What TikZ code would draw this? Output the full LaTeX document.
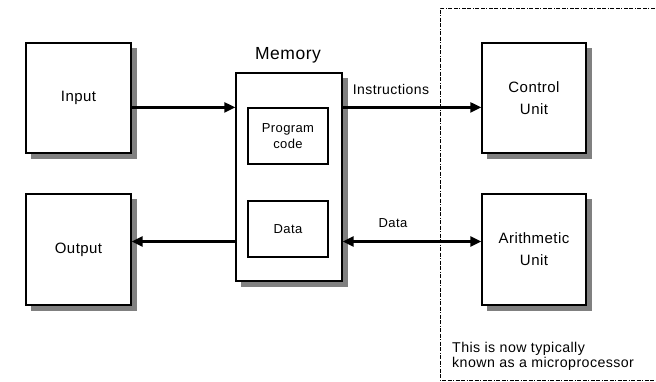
\documentclass[tikz,border=0pt]{standalone}
\usepackage{fontspec}
\setmainfont{Liberation Sans}[LetterSpace=3]
\usetikzlibrary{arrows.meta}
\definecolor{shadegray}{RGB}{128,128,128}
\begin{document}
\begin{tikzpicture}[x=1pt,y=-1pt,
  box/.style={draw=black,line width=1.4pt,fill=white,rectangle,inner sep=0pt,
    font=\fontsize{15}{22}\selectfont,align=center},
  inbox/.style={draw=black,line width=1.2pt,fill=white,rectangle,inner sep=0pt,
    font=\fontsize{13}{15.5}\selectfont,align=center,minimum width=80pt,minimum height=56pt},
  shadowfill/.style={fill=shadegray},
  arr/.style={line width=2.4pt,-{Triangle[length=11pt,width=10pt]}},
  darr/.style={line width=2.4pt,{Triangle[length=11pt,width=10pt]}-{Triangle[length=11pt,width=10pt]}},
  lbl/.style={font=\fontsize{14}{16}\selectfont,inner sep=0pt},
  cpu/.style={line width=0.9pt,dash pattern=on 4pt off 1.5pt on 4pt off 1.5pt on 1pt off 1.5pt}
]
\useasboundingbox (0,0) rectangle (656,381);
% shadows
\fill[shadowfill] (31,48) rectangle (137,159);
\fill[shadowfill] (31,199) rectangle (137,311);
\fill[shadowfill] (241,78) rectangle (348,287);
\fill[shadowfill] (487,48) rectangle (592,159);
\fill[shadowfill] (487,199) rectangle (592,311);
% microprocessor region
\draw[cpu] (660,8) -- (440,8) -- (440,380) -- (660,380);
\node[box,minimum width=105pt,minimum height=110pt] (in) at (78.5,98) {Input};
\node[box,minimum width=105pt,minimum height=111pt] (out) at (78.5,249.5) {Output};
\node[box,minimum width=106pt,minimum height=208pt] (mem) at (289,177) {};
\node[inbox] (pc) at (288,136) {Program\\code};
\node[inbox] (data) at (288,229) {Data};
\node[box,minimum width=104pt,minimum height=110pt] (cu) at (534,98) {Control\\Unit};
\node[box,minimum width=104pt,minimum height=111pt] (au) at (534,249.5) {Arithmetic\\Unit};
\node[font=\fontsize{17.5}{20}\selectfont,inner sep=0pt,anchor=base] (memlbl) at (288,59) {Memory};
\coordinate (dy) at (0,241.5);
\draw[arr] (in.east |- pc.north) -- (mem.west |- pc.north);
\draw[arr] (mem.east |- pc.north) -- (cu.west |- pc.north);
\node[lbl,anchor=base] (ilbl) at (391,94) {Instructions};
\draw[arr] (mem.west |- dy) -- (out.east |- dy);
\draw[darr] (mem.east |- dy) -- (au.west |- dy);
\node[lbl,anchor=base,font=\fontsize{13}{16}\selectfont] (dlbl) at (393,227) {Data};
\node[lbl,anchor=north west,align=left,font=\fontsize{14.2}{15.5}\selectfont] (note) at (452,342)
  {This is now typically\\known as a microprocessor};
\end{tikzpicture}
\end{document}
